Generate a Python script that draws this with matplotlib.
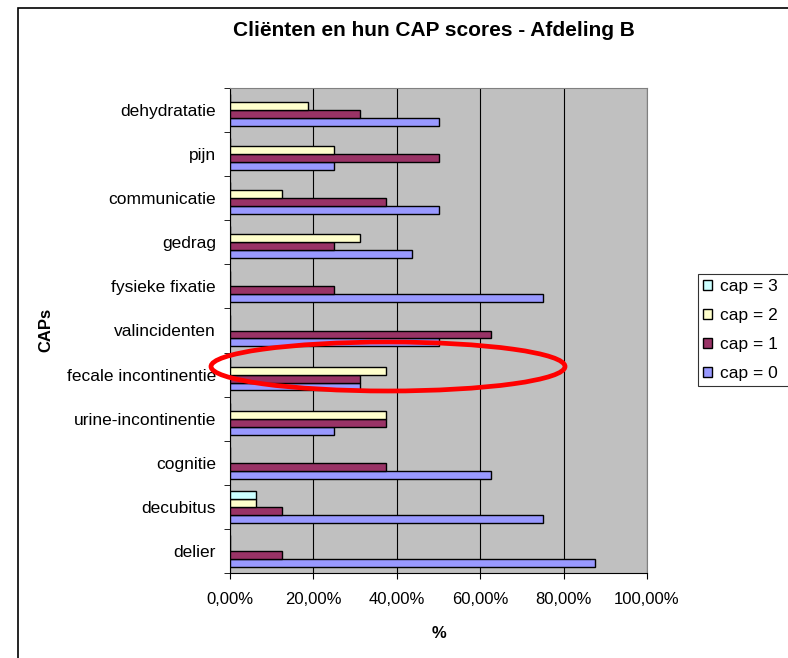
import numpy as np
import matplotlib
matplotlib.use('Agg')
import matplotlib.pyplot as plt
from matplotlib.patches import Ellipse, Rectangle

plt.rcParams['font.family'] = ['Liberation Sans', 'DejaVu Sans']

# categories from bottom to top
caps = ['delier', 'decubitus', 'cognitie', 'urine-incontinentie',
        'fecale incontinentie', 'valincidenten', 'fysieke fixatie',
        'gedrag', 'communicatie', 'pijn', 'dehydratatie']
cap0 = [87.5, 75, 62.5, 25, 31.25, 50, 75, 43.75, 50, 25, 50]
cap1 = [12.5, 12.5, 37.5, 37.5, 31.25, 62.5, 25, 25, 37.5, 50, 31.25]
cap2 = [0, 6.25, 0, 37.5, 37.5, 0, 0, 31.25, 12.5, 25, 18.75]
cap3 = [0, 6.25, 0, 0, 0, 0, 0, 0, 0, 0, 0]
series = [('cap = 0', cap0, '#9999FF'), ('cap = 1', cap1, '#993366'),
          ('cap = 2', cap2, '#FFFFCC'), ('cap = 3', cap3, '#CCFFFF')]
xticks = [0, 20, 40, 60, 80, 100]

W, H = 788, 658
fs = 12
fig = plt.figure(figsize=(W / 100, H / 100), dpi=100)

# chart area border (only top and left edges fall inside the image)
fig.patches.append(Rectangle((18 / W, -0.1), 2, 1.1 - 8 / H, transform=fig.transFigure,
                             fill=False, edgecolor='black', linewidth=1.2))

ax = fig.add_axes([230 / W, 1 - 573 / H, (647 - 230) / W, (573 - 88) / H])
ax.set_facecolor('#C0C0C0')

y = np.arange(len(caps))
h = 0.18
for i, (name, vals, col) in enumerate(series):
    ax.barh(y + (i - 1.5) * h, vals, height=h, color=col, edgecolor='black',
            linewidth=1, label=name, zorder=3)

ax.set_xlim(0, 100)
ax.set_ylim(-0.5, len(caps) - 0.5)
ax.set_xticks(xticks)
ax.set_xticklabels([f'{v:.2f}%'.replace('.', ',') for v in xticks], fontsize=fs)
ax.set_yticks(y)
ax.set_yticklabels(caps, fontsize=12.5)
ax.set_yticks(np.arange(len(caps) + 1) - 0.5, minor=True)
ax.tick_params(axis='y', which='major', length=0, pad=10)
ax.tick_params(axis='y', which='minor', length=4, direction='out')
ax.tick_params(axis='x', length=4, direction='out', pad=9.5)
ax.grid(axis='x', color='black', linewidth=0.8, zorder=1)
for s in ['top', 'right']:
    ax.spines[s].set_color('#808080')
for s in ['left', 'bottom']:
    ax.spines[s].set_color('black')

ax.set_xlabel('%', fontsize=fs, fontweight='bold', labelpad=14)
fig.text(46 / W, 1 - 330 / H, 'CAPs', rotation=90, fontsize=fs,
         fontweight='bold', ha='center', va='center')
fig.text(434 / W, 1 - 31 / H, 'Cliënten en hun CAP scores - Afdeling B',
         fontsize=15, fontweight='bold', ha='center', va='center')

handles, labels = ax.get_legend_handles_labels()
leg = fig.legend(handles[::-1], labels[::-1], loc='center left', mode='expand',
                 bbox_to_anchor=(698 / W, 1 - 387 / H, 120 / W, 114 / H), fontsize=12.5,
                 frameon=True, fancybox=False, edgecolor='black',
                 handlelength=0.5, handleheight=0.5, handletextpad=0.45,
                 labelspacing=0.8, borderpad=0.3, borderaxespad=0)
leg.get_frame().set_linewidth(0.8)

fig.patches.append(Ellipse((388 / W, 1 - 366.5 / H), 354 / W, 49 / H,
                           transform=fig.transFigure, fill=False,
                           edgecolor='#FF0000', linewidth=3.4, zorder=10))

fig.savefig('out.png', dpi=100)
